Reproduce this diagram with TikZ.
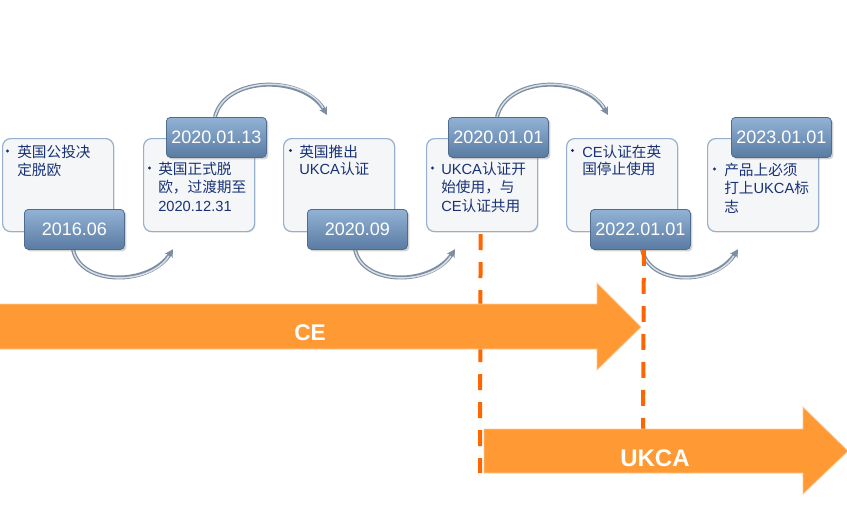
\documentclass[tikz,border=0pt]{standalone}
\usepackage{fontspec}
\setmainfont{Liberation Sans}
\newfontfamily\cjk{Noto Sans CJK SC}
\usetikzlibrary{arrows.meta,shadows,calc}
\definecolor{txtblue}{RGB}{24,50,118}
\definecolor{boxline}{RGB}{150,175,205}
\definecolor{boxfill}{RGB}{245,246,247}
\definecolor{datetop}{RGB}{146,178,213}
\definecolor{datebot}{RGB}{90,123,162}
\definecolor{dateline}{RGB}{78,108,143}
\definecolor{arcdark}{RGB}{125,142,162}
\definecolor{arclight}{RGB}{218,224,232}
\definecolor{orangefill}{RGB}{255,153,51}
\definecolor{orangeedge}{RGB}{255,200,150}
\definecolor{orangedash}{RGB}{255,102,0}
\begin{document}
\begin{tikzpicture}[x=0.75pt,y=-0.75pt,
  cbox/.style={draw=boxline, line width=0.9pt, fill=boxfill, rounded corners=6pt,
    minimum width=111*0.75pt, minimum height=93*0.75pt, anchor=north west, inner sep=0pt,
    drop shadow={shadow xshift=0.8pt,shadow yshift=-0.8pt,opacity=0.2}},
  dbox/.style={draw=dateline, line width=0.6pt, top color=datetop, bottom color=datebot,
    rounded corners=3pt, minimum width=100*0.75pt, minimum height=40*0.75pt,
    anchor=north west, inner sep=0pt, text=white, font=\fontsize{13.5}{16}\selectfont,
    drop shadow={shadow xshift=1.5pt,shadow yshift=-1.5pt,opacity=0.35}},
  ln/.style={anchor=base west, inner sep=0pt, text=txtblue, font=\fontsize{11}{13}\selectfont},
  bul/.style={circle, fill=txtblue, inner sep=0pt, minimum size=2.4pt},
  arcout/.style={draw=arcdark, line width=3pt, -{Stealth[length=6pt,width=6.5pt]}},
  arcin/.style={draw=arclight, line width=1.1pt, shorten >=6pt},
  dashln/.style={draw=orangedash, line width=3pt, dash pattern=on 12pt off 9pt},
  bigarrow/.style={fill=orangefill, draw=orangeedge, line width=0.6pt},
  arrowtxt/.style={text=white, font=\bfseries\fontsize{17}{17}\selectfont, inner sep=0pt}
]
\useasboundingbox (0,0) rectangle (847,504);

% content boxes
\node[cbox] (c1) at (2,138) {};
\node[cbox] (c2) at (143,138) {};
\node[cbox] (c3) at (283,138) {};
\node[cbox] (c4) at (426,138) {};
\node[cbox] (c5) at (566,138) {};
\node[cbox] (c6) at (707,138) {};

% curved arrows (drawn before date boxes)
\draw[arcout] ($(c1.south west)+(71,17)$) .. controls +(7,37) and +(-23,37) .. ($(c2.south west)+(30,17)$);
\draw[arcin]  ($(c1.south west)+(71,17)$) .. controls +(7,37) and +(-23,37) .. ($(c2.south west)+(30,17)$);
\draw[arcout] ($(c3.south west)+(72,17)$) .. controls +(7,37) and +(-23,37) .. ($(c4.south west)+(29,17)$);
\draw[arcin]  ($(c3.south west)+(72,17)$) .. controls +(7,37) and +(-23,37) .. ($(c4.south west)+(29,17)$);
\draw[arcout] ($(c5.south west)+(76,17)$) .. controls +(7,37) and +(-23,37) .. ($(c6.south west)+(31,17)$);
\draw[arcin]  ($(c5.south west)+(76,17)$) .. controls +(7,37) and +(-23,37) .. ($(c6.south west)+(31,17)$);
\draw[arcout] ($(c2.north west)+(72,-21)$) .. controls +(10,-42) and +(-22,-40) .. ($(c3.north west)+(44,-23)$);
\draw[arcin]  ($(c2.north west)+(72,-21)$) .. controls +(10,-42) and +(-22,-40) .. ($(c3.north west)+(44,-23)$);
\draw[arcout] ($(c4.north west)+(71,-21)$) .. controls +(10,-42) and +(-22,-40) .. ($(c5.north west)+(42,-23)$);
\draw[arcin]  ($(c4.north west)+(71,-21)$) .. controls +(10,-42) and +(-22,-40) .. ($(c5.north west)+(42,-23)$);

% date boxes
\node[dbox] (d1) at (24,209) {2016.06};
\node[dbox] (d2) at (166,117) {2020.01.13};
\node[dbox] (d3) at (307,209) {2020.09};
\node[dbox] (d4) at (448,117) {2020.01.01};
\node[dbox] (d5) at (590,209) {2022.01.01};
\node[dbox] (d6) at (731,117) {2023.01.01};

% bullets and texts
\node[bul] (b1) at (7.5,151) {};
\node[ln] (t1a) at (17,157.5) {\cjk 英国公投决};
\node[ln] (t1b) at (17,175) {\cjk 定脱欧};

\node[bul] (b2) at (149.5,168) {};
\node[ln] (t2a) at (158,174.5) {\cjk 英国正式脱};
\node[ln] (t2b) at (158,192.5) {\cjk 欧，过渡期至};
\node[ln] (t2c) at (158,211) {2020.12.31};

\node[bul] (b3) at (290.5,150.5) {};
\node[ln] (t3a) at (299,157) {\cjk 英国推出};
\node[ln] (t3b) at (299,174.5) {UKCA{\cjk 认证}};

\node[bul] (b4) at (432.5,168) {};
\node[ln] (t4a) at (441,174.5) {UKCA{\cjk 认证开}};
\node[ln] (t4b) at (441,192.5) {\cjk 始使用，与};
\node[ln] (t4c) at (441,211) {CE{\cjk 认证共用}};

\node[bul] (b5) at (572.5,150.5) {};
\node[ln] (t5a) at (582,157) {CE{\cjk 认证在英}};
\node[ln] (t5b) at (582,174.5) {\cjk 国停止使用};

\node[bul] (b6) at (714.5,169) {};
\node[ln] (t6a) at (724,175.5) {\cjk 产品上必须};
\node[ln] (t6b) at (724,193.5) {{\cjk 打上}UKCA{\cjk 标}};
\node[ln] (t6c) at (724,212) {\cjk 志};

% dashed lines
\coordinate (e1) at (480,473);
\coordinate (e2) at (643,429);
\draw[dashln] ($(c4.south)+(-1.5,2)$) -- (e1);
\draw[dashln] ($(d5.south)+(3.5,0)$) -- (e2);

% big orange arrows
\draw[bigarrow] (-2,304) -- (597,304) -- (597,283) -- (641,327) -- (597,370) -- (597,349) -- (-2,349) -- cycle;
\draw[bigarrow] (484,429) -- (803,429) -- (803,407) -- (848,451) -- (803,494) -- (803,473) -- (484,473) -- cycle;
\node[arrowtxt] (ce) at (310,333) {CE};
\node[arrowtxt, font=\bfseries\fontsize{18}{18}\selectfont] (ukca) at (655,458) {UKCA};
\end{tikzpicture}
\end{document}
